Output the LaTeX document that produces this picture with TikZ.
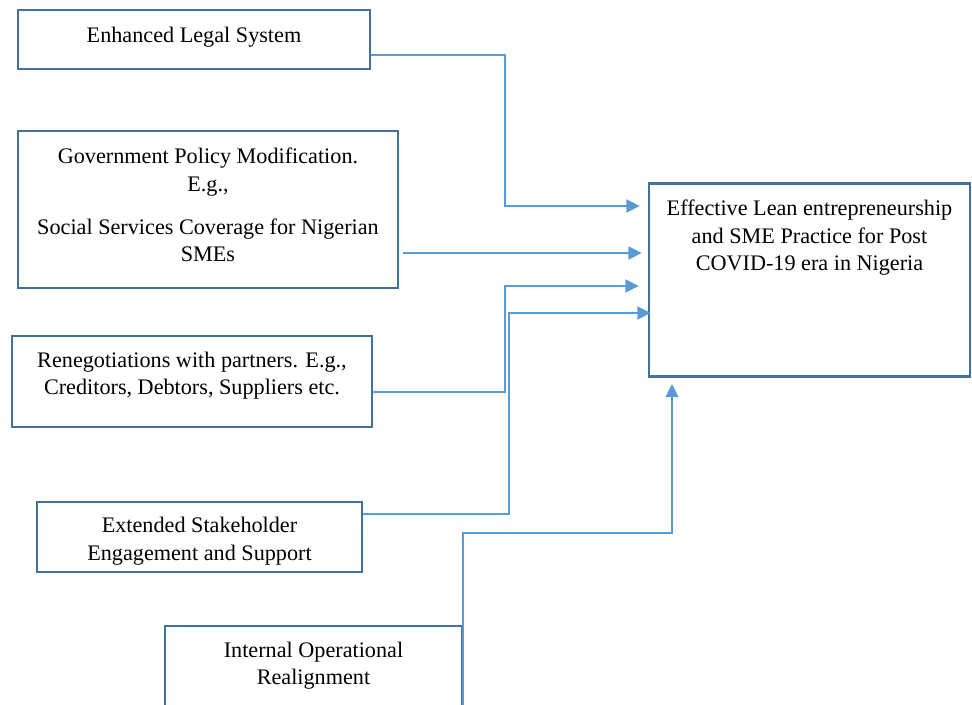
\documentclass[tikz,border=0pt]{standalone}
\usepackage{fontspec}
\setmainfont{Liberation Serif}
\usetikzlibrary{arrows.meta,positioning}
\definecolor{boxblue}{HTML}{41719C}
\definecolor{arrowblue}{HTML}{5B9BD5}
\begin{document}
\begin{tikzpicture}[x=0.75pt,y=-0.75pt,
  fbox/.style={rectangle, draw=boxblue, line width=1.8pt, inner sep=0pt},
  ftxt/.style={align=center, inner sep=0pt, font=\fontsize{16.65pt}{20.5pt}\selectfont},
  flow/.style={draw=arrowblue, line width=1.9pt, -{Triangle[length=10pt,width=9.5pt]}}]
\useasboundingbox (0,0) rectangle (972,705);
\node[fbox, minimum width=264pt, minimum height=44.25pt] (fac1) at (194,39.5){};
\node[ftxt, below=13.5pt of fac1.north] (txt1) {Enhanced Legal System};
\node[fbox, minimum width=285pt, minimum height=117.75pt] (fac2) at (208,209.5){};
\node[ftxt, below=13.5pt of fac2.north] (txt2) {Government Policy Modification.\\ E.g.,\\[11.8pt] Social Services Coverage for Nigerian\\ SMEs};
\node[fbox, minimum width=270pt, minimum height=68.25pt] (fac3) at (192,381.5){};
\node[ftxt, below=12.8pt of fac3.north] (txt3) {Renegotiations with partners. E.g.,\\ Creditors, Debtors, Suppliers etc.};
\node[fbox, minimum width=243.75pt, minimum height=52.5pt] (fac4) at (199.5,537){};
\node[ftxt, below=12.2pt of fac4.north] (txt4) {Extended Stakeholder\\ Engagement and Support};
\node[fbox, minimum width=222.75pt, minimum height=70.5pt] (fac5) at (313.5,673){};
\node[ftxt, below=12.8pt of fac5.north] (txt5) {Internal Operational\\ Realignment};
\node[fbox, minimum width=240.75pt, minimum height=145pt] (goal) at (809.5,280){};
\node[ftxt, below=13.3pt of goal.north] (txt0) {Effective Lean entrepreneurship\\ and SME Practice for Post\\ COVID-19 era in Nigeria};
\draw[flow, shorten >=6pt](fac1.east |- 0,55) -| (505,206) -- (goal.west |- 0,206);
\draw[flow, shorten >=4.5pt, shorten <=3pt](fac2.east |- 0,253) -- (goal.west |- 0,253);
\draw[flow, shorten >=6.75pt](fac3.east |- 0,392) -| (505,286) -- (goal.west |- 0,286);
\draw[flow, shorten >=-2.25pt](fac4.east |- 0,514) -| (509,313) -- (goal.west |- 0,313);
\draw[flow, shorten >=4.5pt](fac5.south east) |- (672,533) -- (goal.south -| 672,0);
\end{tikzpicture}
\end{document}
